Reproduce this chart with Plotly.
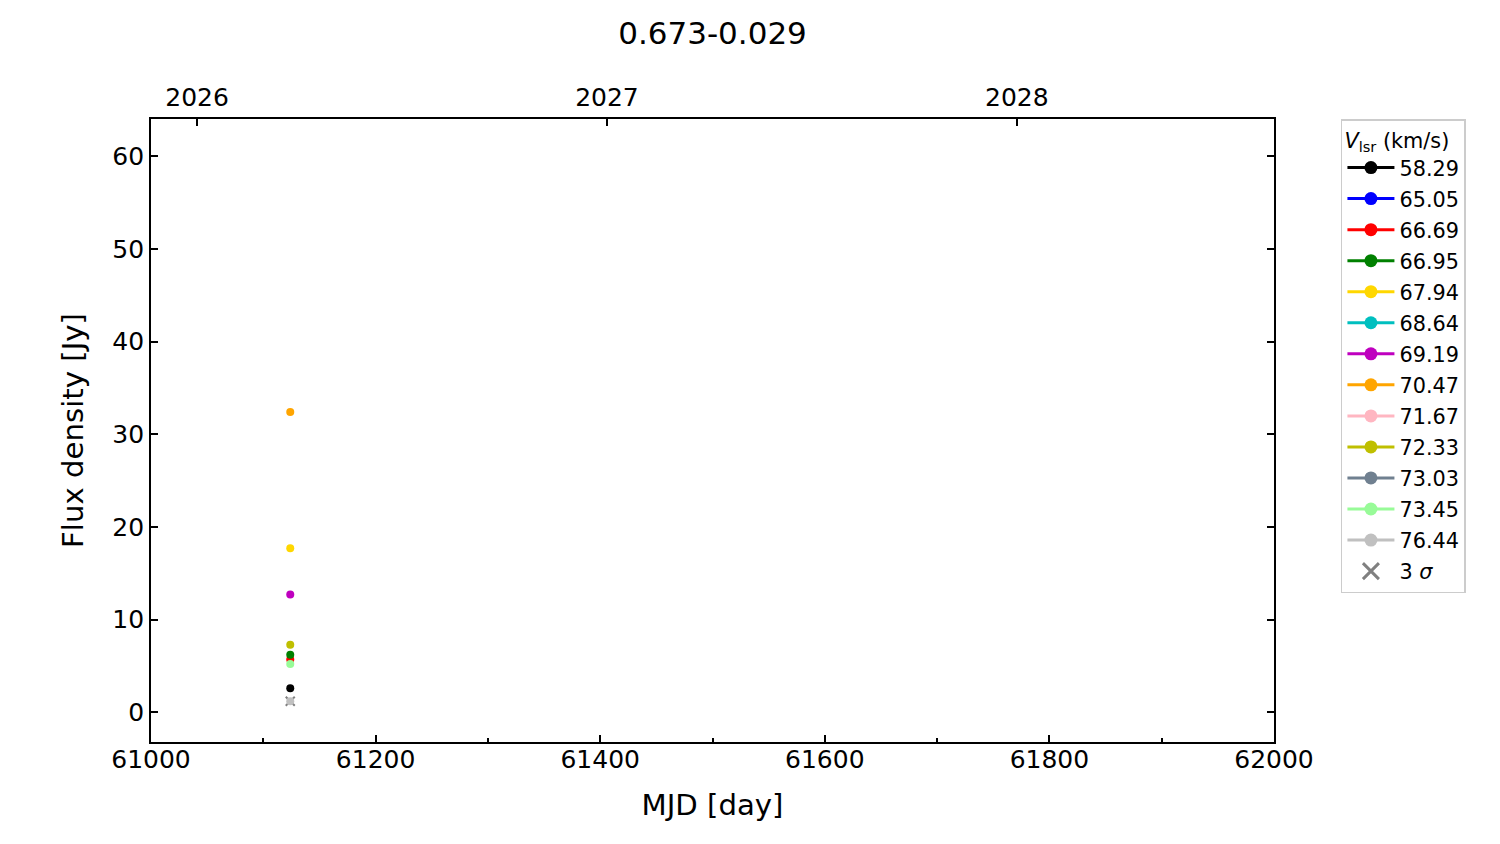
import plotly.graph_objects as go

# ---- data ----
vlsr_labels = ["58.29", "65.05", "66.69", "66.95", "67.94", "68.64", "69.19",
               "70.47", "71.67", "72.33", "73.03", "73.45", "76.44"]
colors = ["#000000", "#0000ff", "#ff0000", "#008000", "#ffd700", "#00bfbf", "#bf00bf",
          "#ffa500", "#ffb6c1", "#bfbf00", "#708090", "#98fb98", "#c0c0c0"]
mjd = [61124]
flux = [[2.6], [None], [5.7], [6.2], [17.7], [None], [12.7],
        [32.4], [None], [7.3], [None], [5.2], [1.2]]
sigma3_mjd = [61124]
sigma3_flux = [1.2]

year_labels = ["2026", "2027", "2028"]
year_mjd = [61041, 61406, 61771]

FONT = "DejaVu Sans"
fig = go.Figure()

# 3 sigma markers (drawn below detections)
fig.add_trace(go.Scatter(x=sigma3_mjd, y=sigma3_flux, mode="markers",
                         marker=dict(symbol="x-thin", size=9, color="#808080",
                                     line=dict(width=2, color="#808080")),
                         showlegend=False, hoverinfo="skip"))

for lab, col, fl in zip(vlsr_labels, colors, flux):
    fig.add_trace(go.Scatter(x=mjd, y=fl, mode="markers",
                             marker=dict(size=8, color=col),
                             showlegend=False, name=lab))

for lab, col in zip(vlsr_labels, colors):
    fig.add_trace(go.Scatter(x=[None], y=[None], mode="lines+markers", name=lab,
                             legendgroup=lab,
                             line=dict(color=col, width=3),
                             marker=dict(size=13, color=col)))
fig.add_trace(go.Scatter(x=[None], y=[None], mode="markers", name="3 <i>σ</i>",
                         legendgroup="sigma",
                         marker=dict(symbol="x-thin", size=16, color="#808080",
                                     line=dict(width=3, color="#808080"))))
# dummy trace for top axis
fig.add_trace(go.Scatter(x=[None], y=[None], xaxis="x2", showlegend=False,
                         hoverinfo="skip"))

fig.update_layout(
    width=1500, height=844, autosize=False,
    margin=dict(l=143, r=234, t=111, b=110),
    paper_bgcolor="white", plot_bgcolor="white",
    font=dict(family=FONT, color="black", size=25),
    title=dict(text="0.673-0.029", x=704.5 / 1500, xref="container", xanchor="center",
               y=1 - 25.5 / 844, yref="container", yanchor="middle",
               font=dict(size=31, family=FONT)),
    xaxis=dict(range=[61000, 62000], dtick=200, tick0=61000, tickformat="d",
               ticks="inside", ticklen=7, tickwidth=1.7, tickcolor="black",
               showline=True, linewidth=1.7, linecolor="black", mirror=True,
               showgrid=False, zeroline=False, ticklabelstandoff=-6,
               tickfont=dict(size=25),
               minor=dict(dtick=100, tick0=61000, ticks="inside", ticklen=4,
                          tickwidth=1.7, tickcolor="black", showgrid=False),
               title=dict(text="MJD [day]", font=dict(size=29.2), standoff=22)),
    xaxis2=dict(range=[61000, 62000], overlaying="x", side="top",
                tickmode="array", tickvals=year_mjd, ticktext=year_labels,
                ticks="inside", ticklen=7, tickwidth=1.7, tickcolor="black",
                showline=False, showgrid=False, zeroline=False,
                ticklabelstandoff=7,
                tickfont=dict(size=25)),
    yaxis=dict(range=[-3.2, 64], dtick=10, tick0=0,
               ticks="inside", ticklen=7, tickwidth=1.7, tickcolor="black",
               showline=True, linewidth=1.7, linecolor="black", mirror="ticks",
               showgrid=False, zeroline=False,
               tickfont=dict(size=25),
               title=dict(text="Flux density [Jy]", font=dict(size=29.2), standoff=20)),
    legend=dict(x=1.0596, y=1.0, xanchor="left", yanchor="top",
                bordercolor="#cccccc", borderwidth=1.5, bgcolor="white",
                font=dict(size=20.8, family=FONT),
                title=dict(text="<i>V</i><sub>lsr</sub> (km/s)", font=dict(size=20.8)),
                traceorder="grouped", tracegroupgap=1, itemwidth=47),
)

fig.write_html("out.html")
